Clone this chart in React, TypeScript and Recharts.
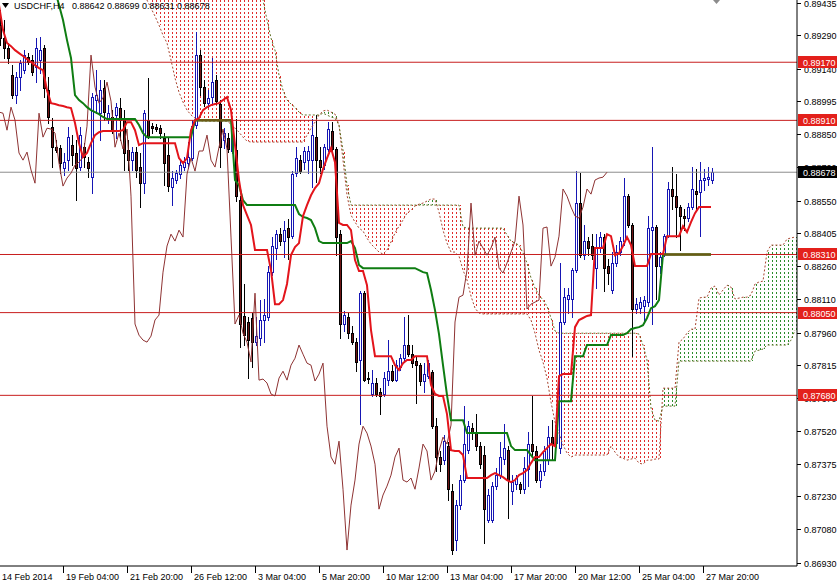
import React from "react";
import { ComposedChart, Bar, Line, XAxis, YAxis, ReferenceLine } from "recharts";

// USDCHF, H4 with Ichimoku Kinko Hyo. Prices are kept in points (1e-5).
const PT = 100000;

const opens = [
  89336, 89278, 89233, 89112, 89023, 89104, 89135, 89193, 89180, 89148,
  89180, 89233, 89045, 88880, 88790, 88786, 88697, 88732, 88799, 88764,
  88701, 88790, 88723, 88656, 89001, 88942, 89054, 88920, 88925, 88934,
  88965, 88911, 88777, 88732, 88768, 88701, 88629, 88911, 88884, 88880,
  88875, 88831, 88755, 88612, 88643, 88670, 88701, 88719, 88741, 88889,
  89202, 89059, 88987, 89014, 89090, 88983, 88822, 88831, 88773, 88777,
  88553, 88035, 88008, 88026, 87918, 87936, 88017, 88030, 88231, 88339,
  88401, 88370, 88428, 88392, 88674, 88732, 88723, 88732, 88732, 88835,
  88732, 88710, 88782, 88862, 88782, 88401, 87999, 88030, 87958, 87918,
  87838, 88137, 87757, 87686, 87735, 87695, 87686, 87748, 87788, 87748,
  87806, 87846, 87905, 87864, 87833, 87815, 87744, 87766, 87784, 87542,
  87404, 87390, 87453, 87252, 87032, 87189, 87301, 87435, 87533, 87516,
  87453, 87413, 87122, 87122, 87274, 87323, 87395, 87435, 87252, 87283,
  87283, 87260, 87350, 87462, 87431, 87301, 87341, 87390, 87493, 87466,
  87444, 88008, 88111, 88111, 88240, 88540, 88307, 88370, 88348, 88249,
  88339, 88388, 88258, 88151, 88272, 88321, 88370, 88571, 88442, 88066,
  88070, 88079, 88097, 88419, 88433, 88258, 88312, 88392, 88603, 88571,
  88522, 88482, 88473, 88522, 88594, 88589, 88643, 88647, 88642,
];

const highs = [
  89403, 89359, 89256, 89157, 89126, 89180, 89224, 89211, 89202, 89278,
  89283, 89247, 89104, 88920, 88822, 88799, 88764, 88880, 88844, 88822,
  88880, 88808, 88746, 89032, 89135, 89090, 89090, 88978, 88956, 88987,
  89010, 88956, 88822, 88790, 88790, 88764, 88956, 89099, 88898, 88893,
  88889, 88853, 88835, 88683, 88688, 88732, 88746, 88813, 88911, 89305,
  89224, 89090, 89045, 89189, 89112, 89001, 88875, 88853, 88880, 88916,
  88571, 88178, 88030, 88048, 88030, 88106, 88111, 88258, 88388, 88419,
  88428, 88459, 88468, 88683, 88790, 88755, 88790, 88795, 88916, 88934,
  88790, 88804, 88902, 88902, 88790, 88419, 88057, 88048, 87990, 87936,
  88146, 88146, 87784, 87793, 87757, 87712, 87784, 87927, 87815, 87838,
  87864, 88030, 88039, 87905, 87855, 87824, 87824, 87838, 87793, 87578,
  87431, 87502, 87471, 87283, 87211, 87323, 87632, 87565, 87556, 87596,
  87471, 87453, 87260, 87292, 87355, 87471, 87551, 87453, 87323, 87323,
  87292, 87404, 87516, 87677, 87453, 87372, 87453, 87542, 87569, 87569,
  88272, 88160, 88160, 88249, 88683, 88674, 88442, 88388, 88401, 88401,
  88410, 88401, 88289, 88321, 88352, 88388, 88652, 88580, 88451, 88115,
  88119, 88124, 88482, 88790, 88442, 88321, 88401, 88634, 88701, 88670,
  88531, 88513, 88540, 88701, 88692, 88723, 88692, 88701, 88699,
];

const lows = [
  89247, 89189, 89166, 89010, 88987, 89045, 89121, 89162, 89112, 89081,
  89121, 89014, 88898, 88701, 88768, 88674, 88665, 88688, 88710, 88553,
  88688, 88701, 88656, 88585, 88942, 88822, 88911, 88898, 88853, 88831,
  88822, 88688, 88688, 88688, 88656, 88522, 88585, 88831, 88853, 88862,
  88831, 88620, 88594, 88531, 88629, 88652, 88688, 88697, 88732, 88875,
  89023, 88974, 88969, 88987, 88983, 88701, 88786, 88768, 88764, 88549,
  87896, 87905, 87757, 87806, 87905, 87905, 87918, 88017, 88218, 88289,
  88352, 88298, 88289, 88383, 88661, 88674, 88692, 88674, 88612, 88634,
  88674, 88692, 88773, 88773, 88307, 87936, 87967, 87936, 87909, 87788,
  87551, 87744, 87735, 87677, 87677, 87596, 87677, 87726, 87744, 87744,
  87793, 87838, 87855, 87806, 87645, 87726, 87695, 87757, 87533, 87341,
  87341, 87372, 87211, 86970, 86988, 87171, 87292, 87422, 87484, 87435,
  87355, 87019, 87113, 87113, 87260, 87310, 87372, 87131, 87193, 87260,
  87243, 87243, 87274, 87404, 87292, 87270, 87323, 87372, 87390, 87449,
  87422, 87999, 88048, 88030, 88231, 88298, 88289, 88307, 88289, 88160,
  88321, 88146, 88178, 88137, 88258, 88307, 88352, 88433, 87855, 88048,
  88048, 88003, 88079, 87999, 88111, 88227, 88303, 88388, 88513, 88388,
  88330, 88419, 88459, 88513, 88513, 88392, 88598, 88620, 88631,
];

const closes = [
  89278, 89233, 89189, 89023, 89104, 89166, 89202, 89171, 89126, 89233,
  89224, 89054, 88925, 88790, 88777, 88719, 88723, 88835, 88755, 88697,
  88844, 88746, 88697, 89014, 89023, 89045, 88947, 88942, 88866, 88969,
  88911, 88764, 88732, 88768, 88688, 88629, 88942, 88835, 88875, 88871,
  88853, 88719, 88616, 88652, 88674, 88710, 88723, 88746, 88884, 89202,
  89059, 88987, 89010, 89081, 88996, 88790, 88853, 88782, 88871, 88571,
  87999, 87949, 87927, 87918, 87945, 88017, 88039, 88231, 88348, 88401,
  88370, 88419, 88388, 88670, 88741, 88683, 88773, 88773, 88844, 88732,
  88701, 88790, 88871, 88782, 88388, 87999, 88039, 87958, 87918, 87829,
  88137, 87748, 87753, 87735, 87686, 87677, 87757, 87788, 87748, 87815,
  87846, 87905, 87864, 87824, 87815, 87744, 87775, 87824, 87542, 87404,
  87372, 87475, 87260, 86988, 87189, 87301, 87462, 87542, 87511, 87453,
  87372, 87171, 87234, 87274, 87323, 87404, 87444, 87301, 87292, 87310,
  87260, 87355, 87462, 87431, 87301, 87341, 87431, 87493, 87462, 87547,
  88008, 88119, 88128, 88240, 88540, 88307, 88370, 88339, 88307, 88339,
  88388, 88249, 88227, 88272, 88321, 88370, 88571, 88442, 88066, 88088,
  88097, 88106, 88428, 88433, 88258, 88298, 88392, 88603, 88571, 88522,
  88482, 88473, 88522, 88603, 88580, 88643, 88652, 88656, 88678,
];

// Tenkan-sen (red)
const tenkan = [
  89426, 89314, 89256, 89242, 89224, 89211, 89198, 89184, 89171, 89157,
  89144, 89135, 89045, 88987, 88983, 88978, 88974, 88969, 88965, 88898,
  88808, 88746, 88764, 88808, 88844, 88857, 88862, 88862, 88862, 88862,
  88862, 88866, 88902, 88902, 88866, 88799, 88808, 88808, 88808, 88808,
  88808, 88808, 88808, 88808, 88808, 88741, 88719, 88741, 88866, 88911,
  88920, 88956, 88969, 88978, 88983, 88987, 89001, 89014, 88956, 88799,
  88643, 88531, 88486, 88442, 88330, 88330, 88330, 88330, 88240, 88088,
  88088, 88106, 88178, 88307, 88343, 88361, 88482, 88531, 88575, 88607,
  88629, 88692, 88741, 88786, 88723, 88451, 88442, 88442, 88419, 88285,
  88236, 88236, 88173, 87972, 87855, 87855, 87855, 87855, 87855, 87815,
  87793, 87824, 87838, 87838, 87855, 87855, 87855, 87855, 87726, 87686,
  87677, 87677, 87596, 87435, 87431, 87431, 87413, 87310, 87310, 87310,
  87310, 87310, 87310, 87323, 87332, 87323, 87314, 87301, 87292, 87301,
  87323, 87332, 87346, 87377, 87404, 87404, 87426, 87444, 87462, 87453,
  87766, 87775, 87775, 87775, 87985, 88017, 88026, 88035, 88039, 88339,
  88339, 88339, 88401, 88392, 88307, 88316, 88348, 88388, 88352, 88258,
  88258, 88258, 88258, 88312, 88312, 88312, 88312, 88392, 88392, 88392,
  88392, 88437, 88410, 88455, 88495, 88522, 88522, 88522, 88522,
];

// Kijun-sen (green), above the visible range before bar 13
const kijun = [
  null, null, null, null, null, null, null, null, null, null,
  null, null, null, 89537, 89493, 89426, 89359, 89269, 89189, 89023,
  89001, 88987, 88969, 88956, 88947, 88938, 88925, 88916, 88916, 88916,
  88916, 88916, 88916, 88916, 88916, 88889, 88853, 88835, 88835, 88835,
  88835, 88835, 88835, 88835, 88835, 88835, 88835, 88835, 88835, 88911,
  88911, 88911, 88911, 88911, 88911, 88911, 88911, 88911, 88911, 88643,
  88620, 88553, 88531, 88531, 88531, 88531, 88531, 88531, 88531, 88531,
  88531, 88531, 88531, 88531, 88531, 88491, 88478, 88473, 88464, 88428,
  88370, 88361, 88361, 88361, 88361, 88361, 88361, 88361, 88370, 88339,
  88263, 88249, 88249, 88249, 88249, 88249, 88249, 88249, 88249, 88249,
  88249, 88249, 88249, 88249, 88249, 88240, 88231, 88227, 88151, 88061,
  87954, 87815, 87681, 87569, 87569, 87569, 87569, 87511, 87511, 87511,
  87511, 87511, 87511, 87511, 87511, 87511, 87511, 87511, 87453, 87435,
  87435, 87435, 87435, 87413, 87390, 87390, 87390, 87390, 87390, 87390,
  87654, 87654, 87654, 87654, 87855, 87855, 87855, 87905, 87905, 87905,
  87905, 87905, 87905, 87950, 87950, 87950, 87950, 87958, 87976, 87981,
  87985, 87994, 88026, 88070, 88079, 88106, 88310, 88310, 88310, 88310,
  88310, 88310, 88310, 88310, 88310, 88310, 88310, 88310, 88310,
];
// bars where the flat kijun is drawn olive
const oliveRuns = [[49, 58], [166, 178]];

// Chikou span (brown), plotted from the first bar
const chikou = [
  88947, 88942, 88866, 88969, 88911, 88764, 88732, 88768, 88688, 88629,
  88942, 88835, 88875, 88871, 88853, 88719, 88616, 88652, 88674, 88710,
  88723, 88746, 88884, 89202, 89059, 88987, 89010, 89081, 88996, 88790,
  88853, 88782, 88871, 88571, 87999, 87949, 87927, 87918, 87945, 88017,
  88039, 88231, 88348, 88401, 88370, 88419, 88388, 88670, 88741, 88683,
  88773, 88773, 88844, 88732, 88701, 88790, 88871, 88782, 88388, 87999,
  88039, 87958, 87918, 87829, 88137, 87748, 87753, 87735, 87686, 87677,
  87757, 87788, 87748, 87815, 87846, 87905, 87864, 87824, 87815, 87744,
  87775, 87824, 87542, 87404, 87372, 87475, 87260, 86988, 87189, 87301,
  87462, 87542, 87511, 87453, 87372, 87171, 87234, 87274, 87323, 87404,
  87444, 87301, 87292, 87310, 87260, 87355, 87462, 87431, 87301, 87341,
  87431, 87493, 87462, 87547, 88008, 88119, 88128, 88240, 88540, 88307,
  88370, 88339, 88307, 88339, 88388, 88249, 88227, 88272, 88321, 88370,
  88571, 88442, 88066, 88088, 88097, 88106, 88428, 88433, 88258, 88298,
  88392, 88603, 88571, 88522, 88482, 88473, 88522, 88603, 88580, 88643,
  88652, 88656, 88678,
];

// Senkou spans, starting at bar CLOUD_FROM
const CLOUD_FROM = 34;
const senkouA = [
  89582, 89528, 89484, 89448, 89412, 89376,
  89336, 89291, 89256, 89180, 89099, 89036, 88992, 88956, 88934, 88920,
  88911, 88907, 88907, 88907, 88907, 88907, 88907, 88907, 88893, 88875,
  88857, 88835, 88817, 88813, 88813, 88813, 88813, 88813, 88813, 88813,
  88813, 88813, 88813, 88813, 88813, 88813, 88813, 88844, 88875, 88902,
  88934, 88952, 88956, 88947, 88938, 88889, 88732, 88576, 88486, 88455,
  88428, 88415, 88383, 88357, 88339, 88321, 88312, 88330, 88366, 88406,
  88437, 88464, 88495, 88509, 88527, 88535, 88540, 88549, 88558, 88558,
  88500, 88419, 88361, 88321, 88321, 88303, 88240, 88196, 88124, 88070,
  88048, 88044, 88044, 88044, 88044, 88044, 88044, 88044, 88044, 88044,
  88044, 88044, 88044, 88017, 87958, 87882, 87829, 87757, 87650, 87561,
  87511, 87458, 87422, 87404, 87413, 87413, 87413, 87413, 87413, 87413,
  87413, 87413, 87413, 87453, 87426, 87404, 87399, 87390, 87395, 87399,
  87377, 87372, 87390, 87390, 87395, 87395, 87712, 87712, 87712, 87712,
  87918, 87932, 87958, 87976, 87976, 88115, 88119, 88119, 88160, 88169,
  88129, 88151, 88173, 88164, 88111, 88115, 88119, 88119, 88129, 88178,
  88187, 88191, 88321, 88352, 88352, 88352, 88352, 88379, 88384, 88388,
];
const senkouB = [
  89649, 89649, 89649, 89649, 89649, 89649,
  89649, 89649, 89649, 89649, 89649, 89649, 89649, 89649, 89649, 89649,
  89649, 89649, 89649, 89649, 89649, 89649, 89649, 89649, 89649, 89649,
  89627, 89605, 89573, 89537, 89502, 89470, 89448, 89359, 89278, 89224,
  89112, 89045, 89001, 88983, 88969, 88947, 88934, 88934, 88934, 88934,
  88934, 88942, 88934, 88925, 88920, 88889, 88777, 88620, 88531, 88531,
  88531, 88531, 88531, 88531, 88531, 88531, 88531, 88531, 88531, 88531,
  88531, 88531, 88531, 88531, 88531, 88531, 88531, 88531, 88531, 88531,
  88531, 88531, 88531, 88531, 88531, 88531, 88433, 88428, 88428, 88428,
  88428, 88428, 88428, 88428, 88428, 88428, 88428, 88397, 88370, 88361,
  88352, 88317, 88272, 88205, 88160, 88129, 88106, 88079, 88026, 87968,
  87958, 87958, 87958, 87958, 87958, 87958, 87958, 87958, 87958, 87958,
  87958, 87958, 87958, 87958, 87958, 87958, 87958, 87958, 87958, 87958,
  87954, 87905, 87838, 87623, 87569, 87565, 87632, 87632, 87632, 87632,
  87833, 87833, 87833, 87833, 87833, 87833, 87833, 87833, 87833, 87833,
  87833, 87833, 87833, 87833, 87833, 87833, 87833, 87833, 87833, 87878,
  87882, 87887, 87905, 87905, 87905, 87905, 87905, 87905, 87927, 87972,
];

const BARS = 200;

const priceTicks = [
  0.89435, 0.8929, 0.8914, 0.88995, 0.8885, 0.887, 0.8855, 0.88405, 0.8826,
  0.8811, 0.8796, 0.87815, 0.8767, 0.8752, 0.87375, 0.8723, 0.8708, 0.8693,
];
const levels = [0.8917, 0.8891, 0.8831, 0.8805, 0.8768];
const lastPrice = 0.88678;
const timeTicks = [0, 16, 32, 48, 64, 80, 96, 112, 128, 144, 160, 176];
const timeLabels = [
  "14 Feb 2014", "19 Feb 04:00", "21 Feb 20:00", "26 Feb 12:00", "3 Mar 04:00", "5 Mar 20:00",
  "10 Mar 12:00", "13 Mar 04:00", "17 Mar 20:00", "20 Mar 12:00", "25 Mar 04:00", "27 Mar 20:00",
];

const FONT = "'Liberation Sans', Arial, sans-serif";
const BULL = "#1616b4";
const BEAR = "#6e1515";
const CLOUD_DOWN = "#e02c2c";
const CLOUD_UP = "#2c8c2c";

const rows = Array.from({ length: BARS }, (_, i) => {
  const r: any = { i };
  if (i < opens.length) {
    r.o = opens[i] / PT;
    r.h = highs[i] / PT;
    r.l = lows[i] / PT;
    r.c = closes[i] / PT;
    r.tenkan = tenkan[i] / PT;
    if (kijun[i] != null) {
      r.kijun = (kijun[i] as number) / PT;
      if (oliveRuns.some(([a, b]) => i >= a && i <= b)) r.olive = r.kijun;
    }
  }
  if (i < chikou.length) r.chikou = chikou[i] / PT;
  const s = i - CLOUD_FROM;
  if (s >= 0 && s < senkouA.length) {
    const a = senkouA[s] / PT;
    const b = senkouB[s] / PT;
    r.spanA = a;
    r.spanB = b;
    r.cloud = [Math.min(a, b), Math.max(a, b)];
  }
  return r;
});

// one dotted column per bar between the two senkou spans
function CloudColumn(props: any) {
  const { x, y, width, height, payload } = props;
  if (!payload || payload.spanA == null) return null;
  const top = Math.round(Math.min(y, y + height));
  const bot = Math.round(Math.max(y, y + height));
  if (bot - top < 1) return null;
  const cx = Math.round(x + width / 2) + 0.5;
  const up = payload.spanA > payload.spanB;
  return (
    <line
      x1={cx}
      x2={cx}
      y1={top}
      y2={bot}
      stroke={up ? CLOUD_UP : CLOUD_DOWN}
      strokeWidth={1}
      strokeDasharray="2 2"
      strokeDashoffset={((top % 4) + 4) % 4}
      shapeRendering="crispEdges"
    />
  );
}

function Candle(props: any) {
  const { x, y, width, height, payload } = props;
  if (!payload || payload.o == null) return null;
  const { o, h, l, c } = payload;
  const top = Math.min(y, y + height);
  const span = Math.abs(height);
  const py = (p: number) => (h === l ? top : top + ((h - p) / (h - l)) * span);
  const cx = Math.round(x + width / 2);
  const bull = c >= o;
  const bTop = Math.round(py(Math.max(o, c)));
  const bBot = Math.max(Math.round(py(Math.min(o, c))), bTop + 1);
  return (
    <g shapeRendering="crispEdges">
      <line
        x1={cx + 0.5}
        x2={cx + 0.5}
        y1={Math.round(top)}
        y2={Math.round(top + span) + 1}
        stroke={bull ? BULL : "#000"}
        strokeWidth={1}
      />
      <rect
        x={cx - 0.5}
        y={bTop + 0.5}
        width={2}
        height={bBot - bTop}
        fill={bull ? "#fff" : BEAR}
        stroke={bull ? BULL : "#000"}
        strokeWidth={1}
      />
    </g>
  );
}

function PriceTick(props: any) {
  const { x, y, payload } = props;
  const v = payload.value;
  const yy = Math.round(y);
  const boxed = levels.includes(v) || v === lastPrice;
  if (boxed) {
    return (
      <g>
        <rect x={x + 1} y={yy - 6} width={40} height={12} fill={v === lastPrice ? "#000" : "#e3201b"} />
        <text x={x + 6} y={yy + 3.5} fill="#fff" fontSize={9} fontFamily={FONT}>
          {v.toFixed(5)}
        </text>
      </g>
    );
  }
  return (
    <g>
      <line x1={x} x2={x + 4} y1={yy + 0.5} y2={yy + 0.5} stroke="#000" />
      <text x={x + 7} y={yy + 3.5} fill="#000" fontSize={9} fontFamily={FONT}>
        {v.toFixed(5)}
      </text>
    </g>
  );
}

function TimeTick(props: any) {
  const { x, y, payload } = props;
  const k = timeTicks.indexOf(payload.value);
  if (k < 0) return null;
  return (
    <g>
      {k > 0 && <line x1={x + 0.5} x2={x + 0.5} y1={y} y2={y + 7} stroke="#000" />}
      <text x={x + 3} y={y + 14} fill="#000" fontSize={9} fontFamily={FONT}>
        {timeLabels[k]}
      </text>
    </g>
  );
}

export default function App() {
  return (
    <div style={{ position: "absolute", left: 0, top: 0, width: 837, height: 585, background: "#fff" }}>
      <ComposedChart width={837} height={585} data={rows} margin={{ top: 0, right: 0, bottom: 0, left: -3 }}>
        <XAxis
          dataKey="i"
          type="category"
          ticks={timeTicks}
          interval={0}
          height={19}
          tickSize={0}
          tickMargin={0}
          tickLine={false}
          axisLine={{ stroke: "#000" }}
          tick={<TimeTick />}
        />
        <XAxis xAxisId="cloud" dataKey="i" type="category" hide />
        <YAxis
          orientation="right"
          type="number"
          width={40}
          domain={[0.869166, 0.894484]}
          allowDataOverflow
          ticks={[...priceTicks, ...levels, lastPrice]}
          interval={0}
          tickSize={0}
          tickMargin={0}
          tickLine={false}
          axisLine={{ stroke: "#000" }}
          tick={<PriceTick />}
        />
        <Bar xAxisId="cloud" dataKey="cloud" barSize={3} shape={<CloudColumn />} isAnimationActive={false} />
        <Line type="linear" dataKey="spanA" stroke="#a8452f" strokeWidth={1} strokeDasharray="2 2" dot={false} activeDot={false} isAnimationActive={false} />
        <Line type="linear" dataKey="spanB" stroke="#5f6f22" strokeWidth={1} strokeDasharray="2 2" dot={false} activeDot={false} isAnimationActive={false} />
        {levels.map((v) => (
          <ReferenceLine key={v} y={v} stroke="#c81e1e" strokeWidth={1} />
        ))}
        <ReferenceLine y={lastPrice} stroke="#8c8c8c" strokeWidth={1} />
        <Bar dataKey={(d: any) => (d.o == null ? null : [d.l, d.h])} barSize={3} shape={<Candle />} isAnimationActive={false} />
        <Line type="linear" dataKey="chikou" stroke="#8e3333" strokeWidth={1} dot={false} activeDot={false} isAnimationActive={false} />
        <Line type="linear" dataKey="kijun" stroke="#0f7d12" strokeWidth={2} dot={false} activeDot={false} isAnimationActive={false} />
        <Line type="linear" dataKey="olive" stroke="#6a5a14" strokeWidth={2.5} dot={false} activeDot={false} isAnimationActive={false} />
        <Line type="linear" dataKey="tenkan" stroke="#e3141b" strokeWidth={2} dot={false} activeDot={false} isAnimationActive={false} />
      </ComposedChart>
      <svg width={837} height={12} style={{ position: "absolute", left: 0, top: 0, pointerEvents: "none" }}>
        <polygon points="2,3 9,3 5.5,8" fill="#000" />
        <polygon points="713,0 720,0 716.5,4" fill="#8c8c8c" />
      </svg>
      <div
        style={{
          position: "absolute",
          left: 14,
          top: 1,
          fontFamily: FONT,
          fontSize: 9,
          lineHeight: "11px",
          color: "#000",
          whiteSpace: "pre",
        }}
      >
        {"USDCHF,H4   0.88642 0.88699 0.88631 0.88678"}
      </div>
    </div>
  );
}
